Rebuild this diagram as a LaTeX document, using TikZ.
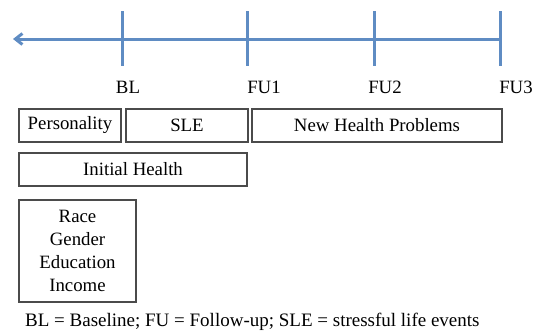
\documentclass[tikz,border=0pt]{standalone}
\usepackage{fontspec}
\setmainfont{Liberation Serif}
\usetikzlibrary{arrows.meta}
\definecolor{tl}{RGB}{95,140,195}
\definecolor{bx}{RGB}{75,75,75}
\tikzset{
  tline/.style={draw=tl, line width=3pt},
  box/.style={draw=bx, line width=1.6pt, minimum height=33pt, inner sep=0pt, font=\fontsize{18.8}{22}\selectfont},
  lbl/.style={font=\fontsize{18.8}{22}\selectfont, inner sep=0pt}
}
\begin{document}
\begin{tikzpicture}[x=1pt,y=-1pt]
\useasboundingbox (0,0) rectangle (543,332);
% timeline
\coordinate (L) at (13,39);
\coordinate (R) at (500,39);
\draw[tline, -{Straight Barb[length=7pt,width=11pt]}] (R) -- (L);
\foreach \n/\x in {t0/122,t1/247,t2/374,t3/500}{
  \coordinate (\n a) at (\x,11);
  \coordinate (\n b) at (\x,66);
  \draw[tline] (\n a) -- (\n b);
}
\node[lbl] (BL) at (128,87) {BL};
\node[lbl] (FU1) at (264,87) {FU1};
\node[lbl] (FU2) at (385,87) {FU2};
\node[lbl] (FU3) at (516,87) {FU3};
% boxes
\node[box, minimum width=102pt] (pers) at (70,125.5) {Personality};
\node[box, minimum width=122pt] (sle) at (187,125.5) {SLE};
\node[box, minimum width=250pt] (nhp) at (377,125.5) {New Health Problems};
\node[box, minimum width=228pt] (ih) at (133,169.5) {Initial Health};
\node[box, minimum width=117pt, minimum height=102pt, align=center,
  font=\fontsize{18.8}{23}\selectfont] (dem) at (77.5,251) {Race\\Gender\\Education\\Income};
\node[lbl, anchor=west, font=\fontsize{19}{22}\selectfont] (foot) at (25,322) {BL = Baseline; FU = Follow-up; SLE = stressful life events};
\end{tikzpicture}
\end{document}
